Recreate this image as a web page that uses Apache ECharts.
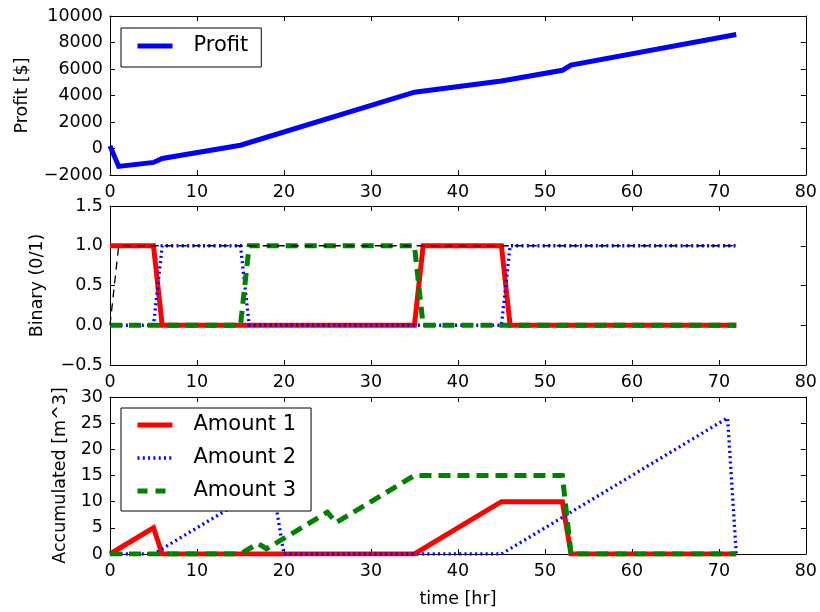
<!DOCTYPE html>
<html><head><meta charset="utf-8">
<script src="https://cdn.jsdelivr.net/npm/echarts@6/dist/echarts.min.js"></script>
<style>html,body{margin:0;padding:0;background:#fff}#c{width:820px;height:612px}</style>
</head><body><div id="c"></div>
<script>
// ---- data (breakpoints) ----
const profitTime = [0, 1, 5, 6, 15, 35, 45, 52, 53, 72];
const profitValue = [200, -1350, -1050, -750, 250, 4250, 5100, 5900, 6300, 8600];

const bin1Time = [0, 5, 6, 35, 36, 45, 46, 72];
const bin1Value = [1, 1, 0, 0, 1, 1, 0, 0];
const bin2Time = [0, 5, 6, 15, 16, 45, 46, 72];
const bin2Value = [0, 0, 1, 1, 0, 0, 1, 1];
const bin3Time = [0, 15, 16, 35, 36, 72];
const bin3Value = [0, 0, 1, 1, 0, 0];
const binSumTime = [0, 1, 72];
const binSumValue = [0, 1, 1];

const amt1Time = [0, 5, 6, 35, 45, 52, 53, 72];
const amt1Value = [0, 5, 0, 0, 10, 10, 0, 0];
const amt2Time = [0, 5, 15, 19, 20, 45, 71, 72];
const amt2Value = [0, 0, 10, 10, 0, 0, 26, 0];
const amt3Time = [0, 15, 17, 18, 25, 26, 35, 52, 53, 72];
const amt3Value = [0, 0, 2, 1, 8, 6, 15, 15, 0, 0];

const seriesNames = ['Profit', 'Amount 1', 'Amount 2', 'Amount 3'];
const axisTitles = ['Profit [$]', 'Binary (0/1)', 'Accumulated [m^3]', 'time [hr]'];

// ---- styling ----
const FONT = 'DejaVu Sans';
const TICK_FS = 17.5;
const pairs = (t, v) => t.map((x, i) => [x, v[i]]);
const minus = s => String(s).replace('-', '\u2212');

const grids = [
  { left: 110, top: 16, width: 699, height: 159 },
  { left: 110, top: 206, width: 699, height: 159 },
  { left: 110, top: 397, width: 699, height: 157 }
];

const yRanges = [
  { min: -2000, max: 10000, interval: 2000, fmt: v => minus(v) },
  { min: -0.5, max: 1.5, interval: 0.5, fmt: v => minus(v.toFixed(1)) },
  { min: 0, max: 30, interval: 5, fmt: v => minus(v) }
];
const nameGaps = [79, 64, 41];

const xAxes = [], yAxes = [];
grids.forEach((g, i) => {
  const base = {
    type: 'value', gridIndex: i, min: 0, max: 80, interval: 10,
    axisLine: { show: true, onZero: false, lineStyle: { color: '#000', width: 1 } },
    axisTick: { show: true, inside: true, length: 5, lineStyle: { color: '#000' } },
    splitLine: { show: false }
  };
  xAxes.push(Object.assign({}, base, {
    position: 'bottom',
    axisLabel: { show: true, fontFamily: FONT, fontSize: TICK_FS, color: '#000', margin: 8, showMinLabel: true, showMaxLabel: true },
    name: i === 2 ? axisTitles[3] : '',
    nameLocation: 'middle', nameGap: 36,
    nameTextStyle: { fontFamily: FONT, fontSize: TICK_FS, color: '#000' }
  }));
  xAxes.push(Object.assign({}, base, { position: 'top', axisLabel: { show: false } }));
  const r = yRanges[i];
  const ybase = {
    type: 'value', gridIndex: i, min: r.min, max: r.max, interval: r.interval,
    axisLine: { show: true, onZero: false, lineStyle: { color: '#000', width: 1 } },
    axisTick: { show: true, inside: true, length: 5, lineStyle: { color: '#000' } },
    splitLine: { show: false }
  };
  yAxes.push(Object.assign({}, ybase, {
    position: 'left',
    axisLabel: { show: true, fontFamily: FONT, fontSize: TICK_FS, color: '#000', margin: 7, formatter: r.fmt, showMinLabel: true, showMaxLabel: true },
    name: axisTitles[i], nameLocation: 'middle', nameRotate: 90, nameGap: nameGaps[i],
    nameTextStyle: { fontFamily: FONT, fontSize: TICK_FS, color: '#000' }
  }));
  yAxes.push(Object.assign({}, ybase, { position: 'right', axisLabel: { show: false } }));
});

function line(name, grid, t, v, color, width, type) {
  return {
    type: 'line', name: name,
    xAxisIndex: grid * 2, yAxisIndex: grid * 2,
    data: pairs(t, v),
    symbol: 'none', showSymbol: false, animation: false,
    lineStyle: { color: color, width: width, type: type, cap: 'butt', join: 'miter' },
    itemStyle: { color: color }
  };
}

const DOT = [2, 3.3];
const DASH = [12, 7];

const series = [
  line(seriesNames[0], 0, profitTime, profitValue, '#0000ff', 5, 'solid'),

  line('b1', 1, bin1Time, bin1Value, '#ff0000', 5, 'solid'),
  line('b2', 1, bin2Time, bin2Value, '#0000ff', 3.3, DOT),
  line('b3', 1, bin3Time, bin3Value, '#008000', 5, DASH),
  line('bsum', 1, binSumTime, binSumValue, '#000000', 1.3, [8, 6]),

  line(seriesNames[1], 2, amt1Time, amt1Value, '#ff0000', 5, 'solid'),
  line(seriesNames[2], 2, amt2Time, amt2Value, '#0000ff', 3.3, DOT),
  line(seriesNames[3], 2, amt3Time, amt3Value, '#008000', 5, DASH)
];

const legendBase = {
  orient: 'vertical', left: 121,
  itemWidth: 35, itemHeight: 14, itemGap: 9,
  borderColor: '#000', borderWidth: 1, borderRadius: 0,
  backgroundColor: '#fff',
  itemStyle: { opacity: 0 },
  textStyle: { fontFamily: FONT, fontSize: 21, color: '#000', lineHeight: 24, padding: [0, 0, 0, 16] },
  selectedMode: false
};

const option = {
  animation: false,
  backgroundColor: '#fff',
  grid: grids,
  xAxis: xAxes,
  yAxis: yAxes,
  legend: [
    Object.assign({}, legendBase, {
      top: 28, padding: [6, 13, 9, 14],
      data: [{ name: seriesNames[0], lineStyle: { width: 5, color: '#0000ff', type: 'solid' } }]
    }),
    Object.assign({}, legendBase, {
      top: 408, padding: [5, 15, 8, 14],
      data: [
        { name: seriesNames[1], lineStyle: { width: 5, color: '#ff0000', type: 'solid' } },
        { name: seriesNames[2], lineStyle: { width: 3.3, color: '#0000ff', type: DOT } },
        { name: seriesNames[3], lineStyle: { width: 5, color: '#008000', type: [10, 8] } }
      ]
    })
  ],
  series: series
};

const chart = echarts.init(document.getElementById('c'), null, { renderer: 'canvas' });
chart.setOption(option);
</script>
</body></html>
